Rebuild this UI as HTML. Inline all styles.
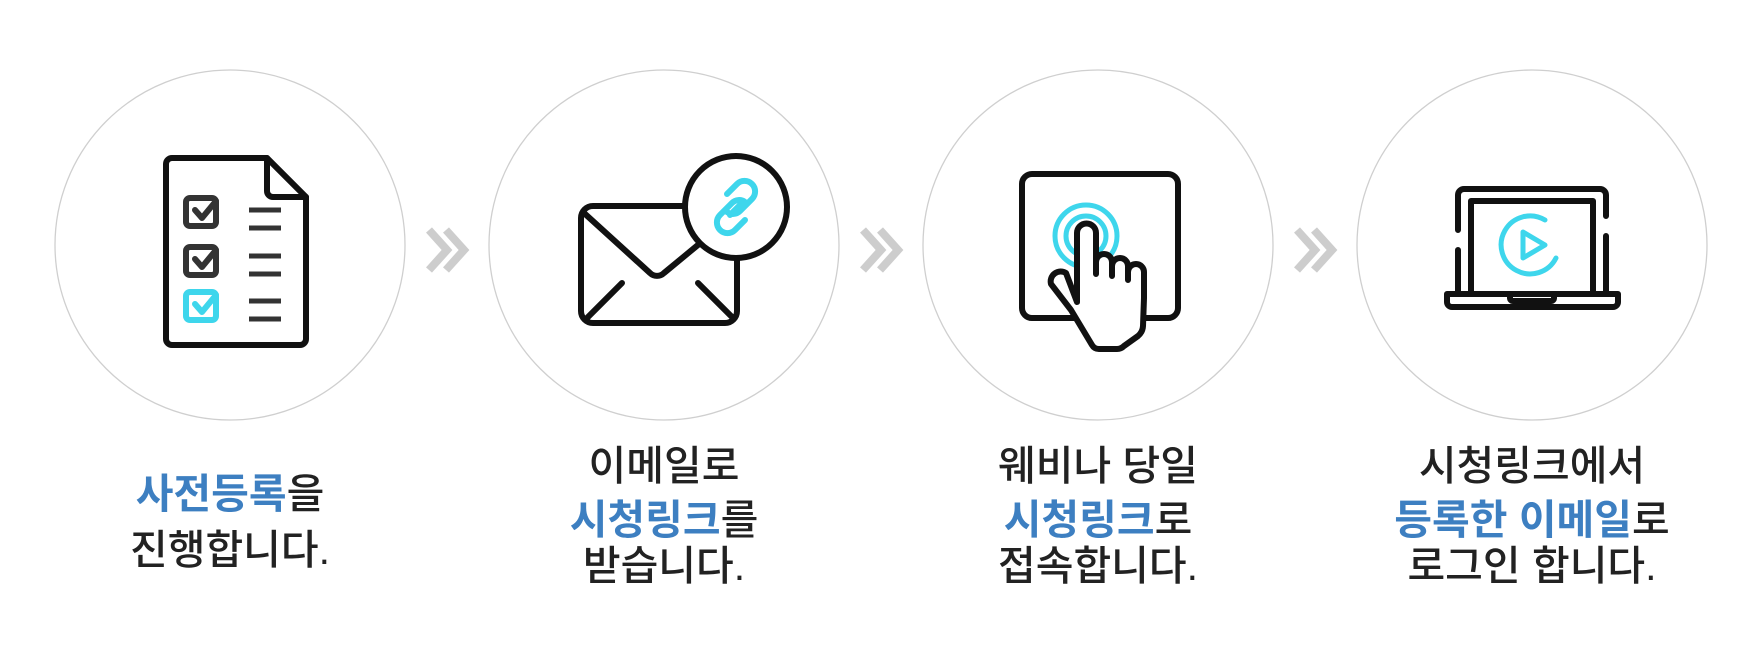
<!DOCTYPE html>
<html><head><meta charset="utf-8"><style>
html,body{margin:0;padding:0;background:#fff;width:1760px;height:665px;overflow:hidden}
text{font-family:"Liberation Sans","Noto Sans CJK KR",sans-serif;font-size:41px;font-weight:500;fill:#222;text-anchor:middle}
.b{fill:#3d7fc1;font-weight:700}
</style></head><body>
<svg width="1760" height="665" viewBox="0 0 1760 665" xmlns="http://www.w3.org/2000/svg">
<g fill="none" stroke="#cfcfcf" stroke-width="1.3">
<circle cx="230" cy="245" r="175"/><circle cx="664" cy="245" r="175"/>
<circle cx="1098" cy="245" r="175"/><circle cx="1532" cy="245" r="175"/>
</g>
<g fill="none" stroke="#cdcdcd" stroke-width="8">
<path d="M429 230 L447 250 L429 270 M446 230 L464 250 L446 270"/>
<path d="M863 230 L881 250 L863 270 M880 230 L898 250 L880 270"/>
<path d="M1297 230 L1315 250 L1297 270 M1314 230 L1332 250 L1314 270"/>
</g>
<!-- icon1 -->
<g fill="none" stroke="#111" stroke-width="6" stroke-linejoin="round" stroke-linecap="round">
<path d="M172 158 H267 L306 197 V339 a6 6 0 0 1 -6 6 H172 a6 6 0 0 1 -6 -6 V164 a6 6 0 0 1 6 -6Z"/>
<path d="M267 158 V191 a6 6 0 0 0 6 6 H306"/>
</g>
<g fill="none" stroke-width="6" stroke-linejoin="round" stroke-linecap="round">
<rect x="186" y="198" width="30" height="28" rx="4" stroke="#333"/>
<path d="M195 210 l7 8 l14 -17" stroke="#333"/>
<rect x="186" y="247" width="30" height="28" rx="4" stroke="#333"/>
<path d="M195 259 l7 8 l14 -17" stroke="#333"/>
<rect x="186" y="292" width="30" height="28" rx="4" stroke="#3ed6ec"/>
<path d="M195 304 l7 8 l14 -17" stroke="#3ed6ec"/>
</g>
<g stroke="#333" stroke-width="5">
<path d="M249 210H281M249 228H281M249 256H281M249 274H281M249 301H281M249 319H281"/>
</g>
<!-- icon2 -->
<g fill="none" stroke="#111" stroke-width="6" stroke-linejoin="round" stroke-linecap="round">
<path d="M688 206 H593 a12 12 0 0 0 -12 12 V311 a12 12 0 0 0 12 12 H725 a12 12 0 0 0 12 -12 V258"/>
<path d="M584 213 L650 273 a10 10 0 0 0 14 0 L704 240"/>
<path d="M587 318 L622 283 M733 318 L698 283"/>
<circle cx="736" cy="207" r="51" fill="#fff"/>
</g>
<g fill="none" stroke="#3ed6ec" stroke-width="6" stroke-linecap="round">
<path d="M727 194 l10 -10 a10 10 0 0 1 15 15 l-12 12 a10 10 0 0 1 -13 1"/>
<path d="M745 220 l-10 10 a10 10 0 0 1 -15 -15 l12 -12 a10 10 0 0 1 13 -1"/>
<path d="M730 215 L742 203"/>
</g>
<!-- icon3 -->
<g fill="none" stroke="#111" stroke-width="6" stroke-linejoin="round" stroke-linecap="round">
<rect x="1022" y="174" width="156" height="144" rx="10"/>
</g>
<g fill="none" stroke="#3ed6ec" stroke-width="5">
<circle cx="1086" cy="236" r="31"/><circle cx="1086" cy="236" r="20"/>
</g>
<path d="M1077 302 V233 a9.5 9.5 0 0 1 19 0 V274 V262 a8 8 0 0 1 16 0 V276 V266 a8 8 0 0 1 16 0 V280 V272 a8 8 0 0 1 16 0 V298 L1143 326 a14 14 0 0 1 -5 10 L1124 346 a10 10 0 0 1 -7 3 H1099 a8 8 0 0 1 -7 -4 L1071 310 L1051 284 a10 10 0 0 1 15 -11 Z" fill="#fff" stroke="#111" stroke-width="6" stroke-linejoin="round"/>
<!-- icon4 -->
<g fill="none" stroke="#111" stroke-width="6" stroke-linejoin="round" stroke-linecap="round">
<path d="M1458 230 V195 a6 6 0 0 1 6 -6 H1600 a6 6 0 0 1 6 6 V216 M1606 236 V292 M1458 250 V292"/>
<path d="M1471 292 V201 H1593 V292"/>
<path d="M1447 294 H1618 V302 a5 5 0 0 1 -5 5 H1452 a5 5 0 0 1 -5 -5Z"/>
<path d="M1510 294 v4 a3 3 0 0 0 3 3 h38 a3 3 0 0 0 3 -3 v-4"/>
</g>
<g fill="none" stroke="#3ed6ec" stroke-width="5" stroke-linejoin="round" stroke-linecap="round">
<path d="M1545 220 A29 29 0 1 0 1556 258"/>
<path d="M1523 232 V258 L1545 245 Z"/>
</g>
<!-- text -->
<text x="230" y="508"><tspan class="b">사전등록</tspan>을</text>
<text x="230" y="564">진행합니다.</text>
<text x="664" y="480">이메일로</text>
<text x="664" y="534"><tspan class="b">시청링크</tspan>를</text>
<text x="664" y="580">받습니다.</text>
<text x="1098" y="480">웨비나 당일</text>
<text x="1098" y="534"><tspan class="b">시청링크</tspan>로</text>
<text x="1098" y="580">접속합니다.</text>
<text x="1532" y="480">시청링크에서</text>
<text x="1532" y="534"><tspan class="b">등록한 이메일</tspan>로</text>
<text x="1532" y="580">로그인 합니다.</text>
</svg>
</body></html>
